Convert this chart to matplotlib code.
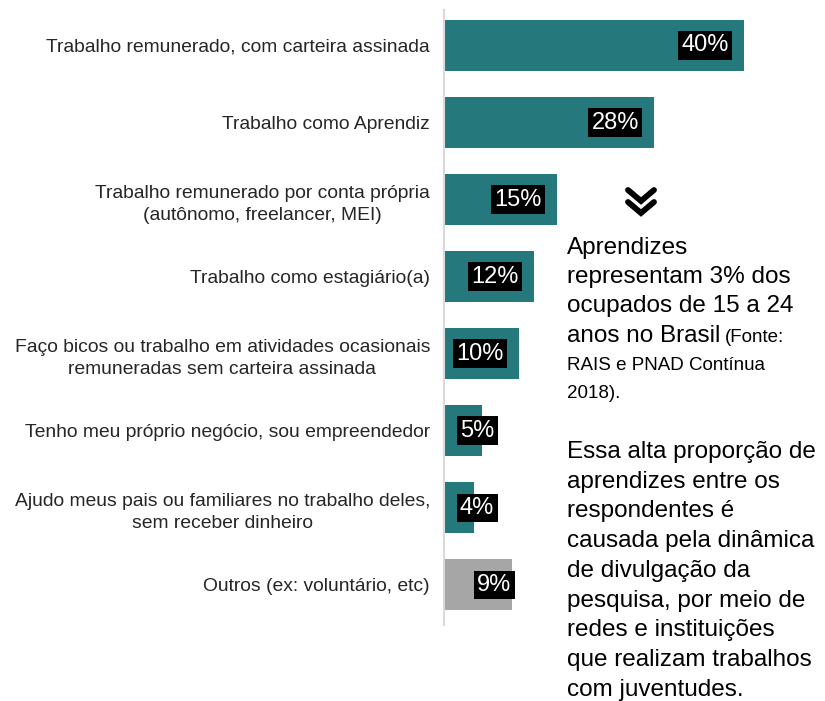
import matplotlib
matplotlib.use("Agg")
import matplotlib.pyplot as plt
from matplotlib.lines import Line2D

plt.rcParams['font.family'] = ['Liberation Sans', 'DejaVu Sans']

categories = [
    "Trabalho remunerado, com carteira assinada",
    "Trabalho como Aprendiz",
    "Trabalho remunerado por conta própria\n(autônomo, freelancer, MEI)",
    "Trabalho como estagiário(a)",
    "Faço bicos ou trabalho em atividades ocasionais\nremuneradas sem carteira assinada",
    "Tenho meu próprio negócio, sou empreendedor",
    "Ajudo meus pais ou familiares no trabalho deles,\nsem receber dinheiro",
    "Outros (ex: voluntário, etc)",
]
values = [40, 28, 15, 12, 10, 5, 4, 9]
labels = ["40%", "28%", "15%", "12%", "10%", "5%", "4%", "9%"]

TEAL = "#25787c"
GRAY = "#a6a6a6"
colors = [TEAL] * 7 + [GRAY]

W, H = 825, 701
fig = plt.figure(figsize=(W / 100, H / 100), dpi=100)
fig.patch.set_facecolor("white")

ax_left = 444 / W
ax_bottom = 1 - 625 / H
ax_top = 1 - 10 / H
ax = fig.add_axes([ax_left, ax_bottom, 1 - ax_left - 0.005, ax_top - ax_bottom])

y = list(range(len(values)))
ax.barh(y, values, height=0.66, color=colors, zorder=2)
ax.set_xlim(0, (W * (1 - ax_left - 0.005)) / 7.5)
ax.set_ylim(7.52, -0.46)

for i, (v, lab) in enumerate(zip(values, labels)):
    xr = v - 2 if v >= 10 else max(v, 6.7)
    ax.text(xr, i, lab, ha="right", va="center", color="white", fontsize=17,
            bbox=dict(boxstyle="square,pad=0.14", facecolor="black", edgecolor="none"),
            zorder=3)

ax.set_yticks(y)
ax.set_yticklabels(categories, fontsize=13.9, color="#262626")
for t in ax.get_yticklabels():
    t.set_multialignment("center")
    t.set_linespacing(1.4)
ax.tick_params(axis="y", length=0, pad=10)
ax.set_xticks([])
for s in ["top", "right", "bottom"]:
    ax.spines[s].set_visible(False)
ax.spines["left"].set_color("#d9d9d9")
ax.spines["left"].set_linewidth(1.5)

def fx(px):
    return px / W

def fy(py):
    return 1 - py / H

# chevron (double down arrow)
for top in (190, 202):
    fig.add_artist(Line2D([fx(628), fx(641), fx(654)], [fy(top), fy(top + 11), fy(top)],
                          color="black", linewidth=4.2, solid_joinstyle="miter",
                          solid_capstyle="round"))

big = 17.5
small = 13.5
x0 = fx(567)
lines1 = [("Aprendizes", 248), ("representam 3% dos", 277), ("ocupados de 15 a 24", 306)]
for s, yy in lines1:
    fig.text(x0, fy(yy), s, fontsize=big, va="center", ha="left", color="black")
t = fig.text(x0, fy(336), "anos no Brasil", fontsize=big, va="center", ha="left", color="black")
fig.canvas.draw()
bb = t.get_window_extent()
fig.text(bb.x1 / W + fx(5), fy(338), "(Fonte:", fontsize=small, va="center", ha="left", color="black")
fig.text(x0, fy(366), "RAIS e PNAD Contínua", fontsize=small, va="center", ha="left", color="black")
fig.text(x0, fy(394), "2018).", fontsize=small, va="center", ha="left", color="black")

lines2 = ["Essa alta proporção de", "aprendizes entre os", "respondentes é",
          "causada pela dinâmica", "de divulgação da", "pesquisa, por meio de",
          "redes e instituições", "que realizam trabalhos", "com juventudes."]
for k, s in enumerate(lines2):
    fig.text(x0, fy(452 + k * 29.7), s, fontsize=big, va="center", ha="left", color="black")

fig.savefig("out.png", dpi=100, facecolor="white")
